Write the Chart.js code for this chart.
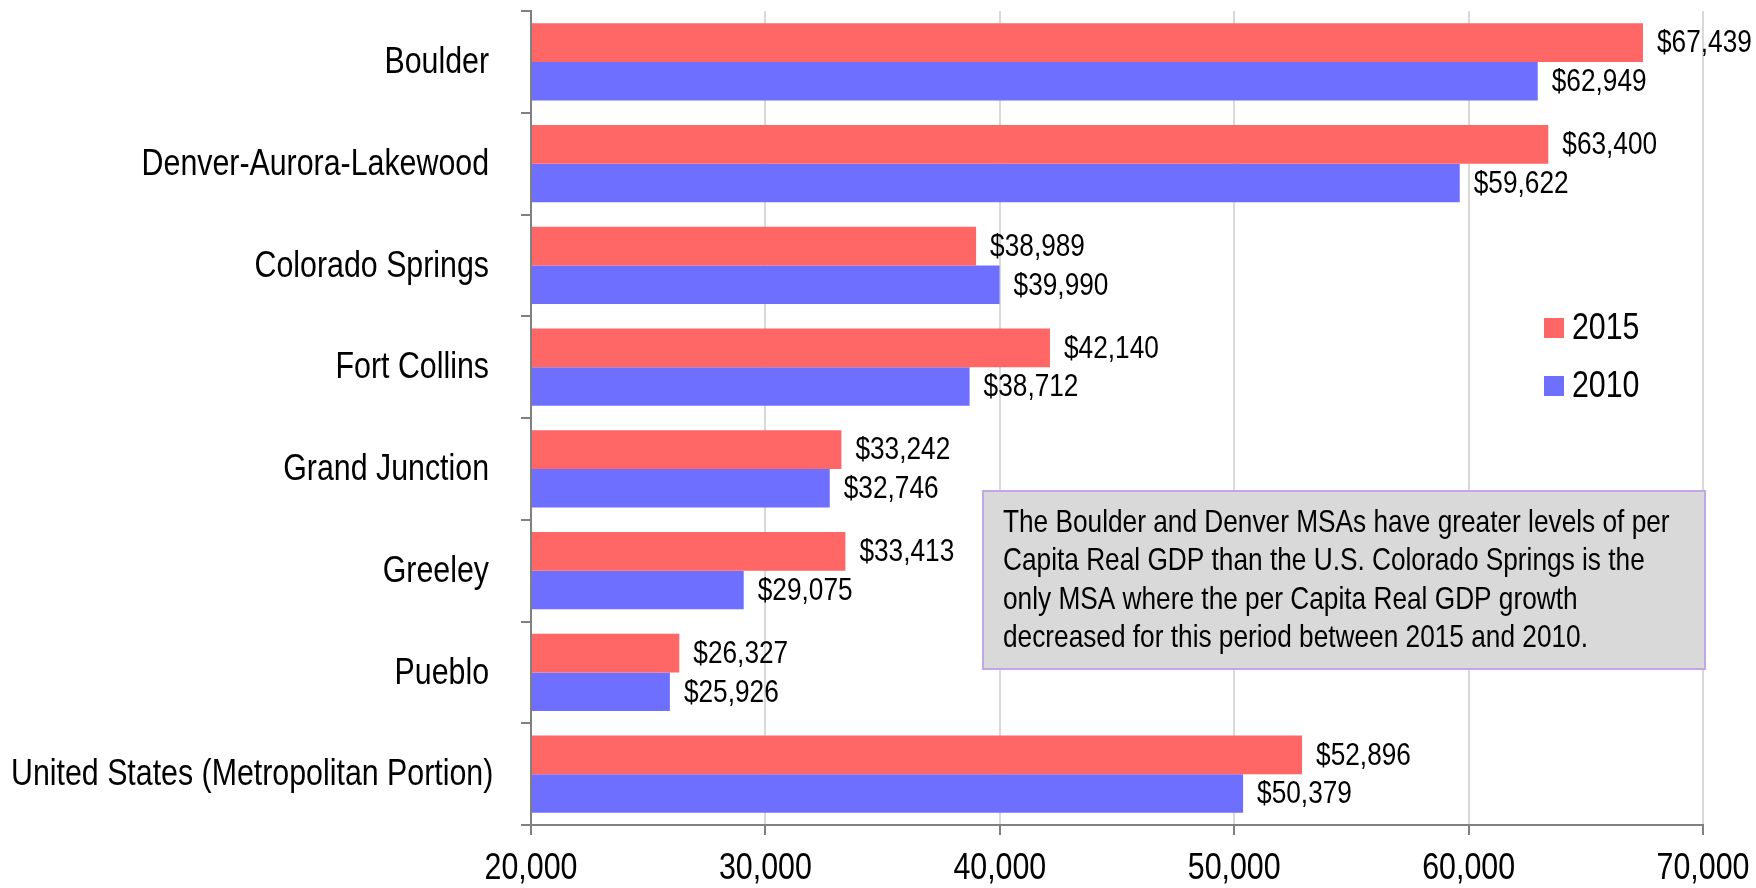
<!DOCTYPE html>
<html>
<head>
<meta charset="utf-8">
<script src="https://cdn.jsdelivr.net/npm/chart.js@4.4.1/dist/chart.umd.min.js"></script>
<style>
  html, body { margin: 0; padding: 0; background: #fff; }
  #wrap { width: 1756px; height: 888px; }
</style>
</head>
<body>
<div id="wrap"><canvas id="gdp" width="1756" height="888"></canvas></div>
<script>
const areas = [
  'Boulder',
  'Denver-Aurora-Lakewood',
  'Colorado Springs',
  'Fort Collins',
  'Grand Junction',
  'Greeley',
  'Pueblo',
  'United States (Metropolitan Portion)'
];
const gdp2015 = [67439, 63400, 38989, 42140, 33242, 33413, 26327, 52896];
const gdp2010 = [62949, 59622, 39990, 38712, 32746, 29075, 25926, 50379];
const xTicks = [20000, 30000, 40000, 50000, 60000, 70000];

const note = [
  'The Boulder and Denver MSAs have greater levels of per',
  'Capita Real GDP than the U.S. Colorado Springs is the',
  'only MSA where the per Capita Real GDP growth',
  'decreased for this period between 2015 and 2010.'
];

const FONT = '"Liberation Sans", Arial, sans-serif';
const NARROW = 0.82; // no narrow face installed, squeeze the regular one
const money = (v) => '$' + v.toLocaleString('en-US');

// condensed text: width scaled, height untouched
function narrowText(ctx, text, x, y, size, align) {
  ctx.save();
  ctx.font = size + 'px ' + FONT;
  ctx.fillStyle = '#000';
  ctx.textBaseline = 'middle';
  ctx.textAlign = align || 'left';
  ctx.translate(x, y);
  ctx.scale(NARROW, 1);
  ctx.fillText(text, 0, 0);
  ctx.restore();
}

function narrowWidth(ctx, text, size) {
  ctx.save();
  ctx.font = size + 'px ' + FONT;
  const w = ctx.measureText(text).width * NARROW;
  ctx.restore();
  return w;
}

// axis labels, drawn at the positions the scales give
const axisLabels = {
  id: 'axisLabels',
  afterDraw(chart) {
    const ctx = chart.ctx;
    const { x, y } = chart.scales;
    y.ticks.forEach((t, i) => {
      const text = chart.data.labels[i];
      const w = narrowWidth(ctx, text, 37);
      const right = Math.max(489, 11 + w);
      narrowText(ctx, text, right, y.getPixelForTick(i) + 1, 37, 'right');
    });
    x.ticks.forEach((t, i) => {
      narrowText(ctx, t.value.toLocaleString('en-US'), x.getPixelForTick(i), 869, 37, 'center');
    });
  }
};

// value labels to the right of every bar
const barLabels = {
  id: 'barLabels',
  afterDatasetsDraw(chart) {
    const ctx = chart.ctx;
    chart.data.datasets.forEach((ds, i) => {
      chart.getDatasetMeta(i).data.forEach((bar, j) => {
        narrowText(ctx, money(ds.data[j]), bar.x + 14, bar.y + 1, 32);
      });
    });
  }
};

// legend squares inside the plot, right side
const sideLegend = {
  id: 'sideLegend',
  afterDraw(chart) {
    const ctx = chart.ctx;
    chart.data.datasets.forEach((ds, i) => {
      const y = 328 + i * 58;
      ctx.fillStyle = ds.backgroundColor;
      ctx.fillRect(1544, y - 10, 20, 20);
      narrowText(ctx, ds.label, 1572, y + 1, 37);
    });
  }
};

// grey comment box
const noteBox = {
  id: 'noteBox',
  afterDraw(chart) {
    const ctx = chart.ctx;
    const x = 983, y = 491, w = 722, h = 178;
    ctx.save();
    ctx.fillStyle = '#d9d9d9';
    ctx.fillRect(x, y, w, h);
    ctx.strokeStyle = '#c3a6e6';
    ctx.lineWidth = 2;
    ctx.strokeRect(x, y, w, h);
    ctx.restore();
    note.forEach((line, i) => narrowText(ctx, line, x + 20, y + 32 + i * 38.5, 32));
  }
};

new Chart(document.getElementById('gdp'), {
  type: 'bar',
  data: {
    labels: areas,
    datasets: [
      { label: '2015', data: gdp2015, backgroundColor: '#ff6666', base: 20000 },
      { label: '2010', data: gdp2010, backgroundColor: '#6f6fff', base: 20000 }
    ]
  },
  options: {
    indexAxis: 'y',
    responsive: false,
    animation: false,
    devicePixelRatio: 1,
    layout: { padding: { top: 11, right: 53, left: 0, bottom: 0 } },
    datasets: { bar: { categoryPercentage: 0.76, barPercentage: 1.0 } },
    plugins: {
      legend: { display: false },
      tooltip: { enabled: false }
    },
    scales: {
      x: {
        min: 20000,
        max: 70000,
        afterBuildTicks: (s) => { s.ticks = xTicks.map((v) => ({ value: v })); },
        afterFit: (s) => { s.height = 63; s.paddingLeft = 0; s.paddingRight = 0; },
        grid: { color: '#d9d9d9', lineWidth: 2, tickColor: '#808080', tickLength: 10 },
        border: { color: '#808080', width: 2 },
        ticks: { display: false }
      },
      y: {
        afterFit: (s) => { s.width = 531; s.paddingTop = 0; s.paddingBottom = 0; },
        grid: { drawOnChartArea: false, color: '#808080', lineWidth: 2, tickLength: 10, offset: true },
        border: { color: '#808080', width: 2 },
        ticks: { display: false }
      }
    }
  },
  plugins: [barLabels, axisLabels, sideLegend, noteBox]
});
</script>
</body>
</html>
